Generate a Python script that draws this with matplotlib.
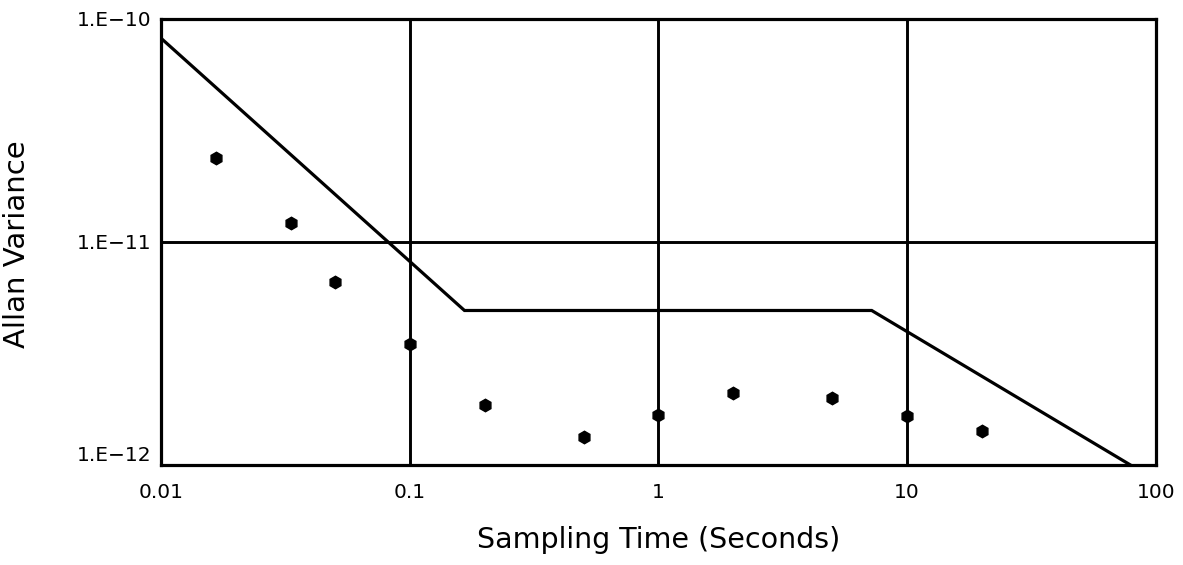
import matplotlib
matplotlib.use("Agg")
import matplotlib.pyplot as plt

# measured Allan variance points
tau = [1 / 60, 1 / 30, 0.05, 0.1, 0.2, 0.5, 1, 2, 5, 10, 20]
avar = [2.38e-11, 1.22e-11, 6.6e-12, 3.5e-12, 1.86e-12, 1.34e-12,
        1.68e-12, 2.1e-12, 2.0e-12, 1.66e-12, 1.42e-12]

# specification limit (piecewise line)
spec_tau = [0.01, 0.166, 7.2, 79]
spec_avar = [8.2e-11, 4.93e-12, 4.93e-12, 1.0e-12]

x_ticks = [0.01, 0.1, 1, 10, 100]
x_labels = ["0.01", "0.1", "1", "10", "100"]
y_ticks = [1e-12, 1e-11, 1e-10]
y_labels = ["1.E\u221212", "1.E\u221211", "1.E\u221210"]

fig = plt.figure(figsize=(11.83, 5.65), dpi=100)
ax = fig.add_axes([0.1361, 0.177, 0.841, 0.7894])

ax.plot(spec_tau, spec_avar, color="black", lw=2.3, solid_joinstyle="miter", zorder=3)
ax.plot(tau, avar, linestyle="none", marker="h", markersize=9,
        color="black", zorder=4)

ax.set_xscale("log")
ax.set_yscale("log")
ax.set_xlim(0.01, 100)
ax.set_ylim(1e-12, 1e-10)

ax.set_xticks(x_ticks)
ax.set_xticklabels(x_labels)
ax.set_yticks(y_ticks)
ax.set_yticklabels(y_labels)
ax.minorticks_off()
ax.tick_params(axis="x", length=0, pad=13, labelsize=14.5)
ax.tick_params(axis="y", length=0, pad=7, labelsize=14.5)
ax.get_yticklabels()[0].set_va("bottom")

# grid lines at each decade
ax.grid(True, which="major", color="black", lw=2.1)
for s in ax.spines.values():
    s.set_linewidth(2.3)

ax.set_xlabel("Sampling Time (Seconds)", fontsize=20.5)
ax.set_ylabel("Allan Variance", fontsize=21)
ax.xaxis.set_label_coords(0.5, -0.137)
ax.yaxis.set_label_coords(-0.131, 0.495)

fig.savefig("out.png", dpi=100)
